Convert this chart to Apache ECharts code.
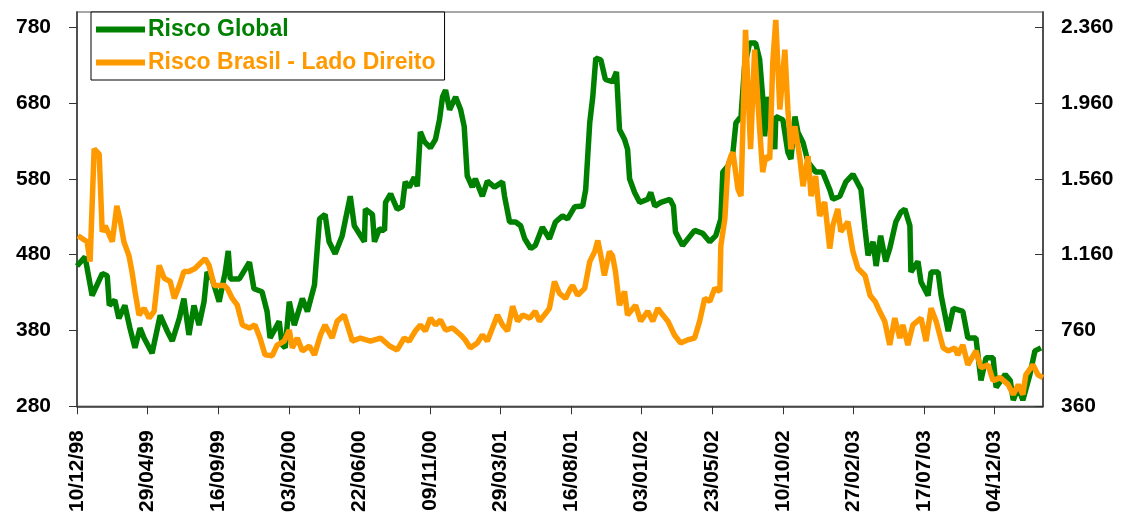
<!DOCTYPE html>
<html>
<head>
<meta charset="utf-8">
<script src="https://cdn.jsdelivr.net/npm/echarts@6/dist/echarts.min.js"></script>
<style>
html,body{margin:0;padding:0;background:#fff;}
#chart{width:1121px;height:515px;}
</style>
</head>
<body>
<div id="chart"></div>
<script>
// X tick labels (every 140 days from 10/12/98)
const dateLabels = ['10/12/98','29/04/99','16/09/99','03/02/00','22/06/00','09/11/00','29/03/01','16/08/01','03/01/02','23/05/02','10/10/02','27/02/03','17/07/03','04/12/03'];
const leftTickLabels = ['280','380','480','580','680','780'];
const rightTickLabels = ['360','760','1.160','1.560','1.960','2.360'];

// Risco Global (left axis) – day offset from 10/12/98 and value
const globalDays = [0,16,30,50,60,64,75,83,95,105,115,125,133,149,165,179,189,203,212,222,232,242,252,258,268,282,294,300,304,322,342,351,367,377,383,401,407,413,421,431,447,457,471,481,492,500,512,526,542,550,570,572,586,590,600,610,612,622,635,645,651,659,669,675,681,689,701,711,719,725,731,739,751,761,768,774,784,790,804,814,828,844,848,858,870,880,888,900,909,923,937,949,963,973,987,1003,1009,1017,1023,1029,1039,1048,1062,1070,1076,1086,1092,1096,1106,1116,1132,1138,1146,1158,1176,1183,1187,1201,1225,1241,1255,1267,1277,1281,1291,1301,1307,1317,1324,1334,1346,1354,1360,1364,1370,1384,1386,1400,1410,1416,1424,1430,1440,1450,1465,1479,1493,1499,1513,1525,1539,1555,1563,1569,1579,1585,1594,1604,1612,1624,1634,1642,1652,1654,1668,1674,1688,1694,1708,1714,1728,1738,1757,1767,1783,1793,1803,1817,1823,1841,1851,1857,1867,1876,1890,1900,1912];
const globalValues = [465,477,426,455,452,413,420,396,413,383,357,383,370,350,400,379,366,396,422,374,413,387,418,457,448,418,457,485,448,448,470,435,431,405,370,392,361,357,418,387,422,405,440,527,533,497,481,505,557,518,497,540,533,497,514,512,549,560,540,543,576,569,582,570,642,629,621,632,658,688,697,671,688,671,649,584,569,580,557,577,569,576,557,523,523,518,501,488,492,516,501,523,531,527,543,544,566,654,688,739,737,711,708,721,645,632,619,580,562,549,553,562,544,549,553,544,510,492,512,508,497,505,527,589,597,615,654,662,728,759,759,737,688,636,688,619,662,658,615,606,662,641,628,602,589,589,566,553,557,576,586,566,514,479,497,465,505,471,488,523,536,540,518,457,471,444,426,457,457,426,379,409,405,370,370,314,344,344,305,322,314,288,305,288,322,353,357];

// Risco Brasil (right axis)
const brasilDays = [2,20,26,34,44,50,56,70,79,85,93,103,109,115,123,133,143,153,163,173,185,193,203,212,222,234,244,254,262,272,282,292,298,308,318,328,342,353,363,373,387,397,411,421,427,437,447,461,471,483,492,506,516,530,540,546,562,582,602,620,635,649,659,671,681,691,701,711,721,731,745,761,770,780,794,804,814,824,834,844,854,864,874,884,898,909,917,927,937,947,957,969,979,983,993,1007,1017,1027,1033,1039,1046,1056,1062,1068,1076,1086,1092,1108,1118,1132,1142,1152,1162,1172,1185,1197,1211,1225,1235,1245,1255,1265,1275,1277,1285,1291,1297,1301,1311,1317,1326,1336,1344,1354,1360,1366,1374,1380,1386,1394,1404,1410,1416,1424,1434,1440,1450,1456,1465,1473,1483,1493,1499,1509,1515,1529,1539,1549,1563,1573,1583,1592,1602,1612,1622,1632,1638,1648,1658,1674,1684,1694,1704,1718,1728,1741,1747,1757,1767,1783,1793,1807,1817,1831,1847,1857,1867,1876,1882,1896,1906,1916];
const brasilValues = [1260,1228,1123,1718,1690,1280,1312,1228,1417,1350,1228,1155,1071,966,841,877,825,861,1103,1035,1018,929,997,1071,1071,1087,1113,1139,1103,997,997,997,982,929,893,789,773,789,720,631,626,683,704,762,668,720,652,678,631,736,789,720,809,841,757,704,720,704,720,678,657,720,704,757,789,757,825,789,815,762,773,736,710,668,694,736,704,773,841,789,757,888,809,841,825,861,809,841,877,1018,955,929,982,997,945,982,1123,1176,1234,1155,1050,1176,1155,1071,893,966,841,893,809,861,809,877,841,809,736,694,710,720,809,929,913,982,966,1207,1349,1627,1680,1700,1506,1469,2346,1716,2241,1821,1595,1679,1663,2173,2398,1926,2241,1926,1716,1837,1663,1521,1679,1469,1574,1364,1438,1192,1312,1401,1281,1333,1176,1087,1050,945,913,861,809,683,825,720,789,683,789,825,704,877,809,668,652,668,631,683,579,652,563,579,495,511,474,422,474,422,526,579,526,511];

const GREEN = '#008000';
const ORANGE = '#FF9900';
const FONT = "'Liberation Sans', Arial, sans-serif";

const globalData = globalDays.map((d, i) => [d, globalValues[i]]);
const brasilData = brasilDays.map((d, i) => [d, brasilValues[i]]);

const chart = echarts.init(document.getElementById('chart'), null, {renderer: 'canvas'});
chart.setOption({
  animation: false,
  backgroundColor: '#fff',
  grid: {left: 77, right: 78, top: 12, bottom: 106, show: true, borderColor: '#8a8a8a', borderWidth: 1.5, backgroundColor: 'transparent'},
  legend: {
    left: 91, top: 12, orient: 'vertical',
    backgroundColor: '#fff', borderColor: '#000', borderWidth: 1,
    padding: [6, 9, 6, 5], itemGap: 10,
    itemWidth: 49, itemHeight: 6, icon: 'rect',
    textStyle: {fontFamily: FONT, fontWeight: 'bold', fontSize: 23, padding: [0, 0, 0, -2]},
    data: [
      {name: 'Risco Global', textStyle: {color: GREEN}, itemStyle: {color: GREEN}},
      {name: 'Risco Brasil - Lado Direito', textStyle: {color: ORANGE}, itemStyle: {color: ORANGE}}
    ]
  },
  xAxis: {
    type: 'value', min: 0, max: 1916, interval: 140,
    axisLine: {show: true, lineStyle: {color: '#333', width: 1.5}},
    axisTick: {show: true, length: 8, lineStyle: {color: '#333', width: 1}},
    splitLine: {show: false},
    axisLabel: {
      rotate: 90, margin: 24, color: '#000', fontFamily: FONT, fontWeight: 'bold', fontSize: 21,
      showMaxLabel: false,
      formatter: v => { const i = Math.round(v / 140); return (v % 140 === 0 && dateLabels[i]) ? dateLabels[i] : ''; }
    }
  },
  yAxis: [
    {
      type: 'value', min: 280, max: 800, interval: 100, position: 'left',
      axisLine: {show: true, lineStyle: {color: '#333', width: 1.5}},
      axisTick: {show: true, length: 8, lineStyle: {color: '#333'}},
      splitLine: {show: false},
      axisLabel: {
        margin: 26, color: '#000', fontFamily: FONT, fontWeight: 'bold', fontSize: 21, showMaxLabel: false,
        formatter: v => { const i = (v - 280) / 100; return Number.isInteger(i) && leftTickLabels[i] ? leftTickLabels[i] : ''; }
      }
    },
    {
      type: 'value', min: 360, max: 2440, interval: 400, position: 'right',
      axisLine: {show: true, lineStyle: {color: '#333', width: 1.5}},
      axisTick: {show: true, length: 8, inside: true, lineStyle: {color: '#333'}},
      splitLine: {show: false},
      axisLabel: {
        margin: 18, color: '#000', fontFamily: FONT, fontWeight: 'bold', fontSize: 21, showMaxLabel: false,
        formatter: v => { const i = (v - 360) / 400; return Number.isInteger(i) && rightTickLabels[i] ? rightTickLabels[i] : ''; }
      }
    }
  ],
  series: [
    {name: 'Risco Global', type: 'line', yAxisIndex: 0, data: globalData, showSymbol: false, symbol: 'none',
     lineStyle: {color: GREEN, width: 5.5}, itemStyle: {color: GREEN}, z: 2},
    {name: 'Risco Brasil - Lado Direito', type: 'line', yAxisIndex: 1, data: brasilData, showSymbol: false, symbol: 'none',
     lineStyle: {color: ORANGE, width: 5.5}, itemStyle: {color: ORANGE}, z: 3}
  ]
});
</script>
</body>
</html>
